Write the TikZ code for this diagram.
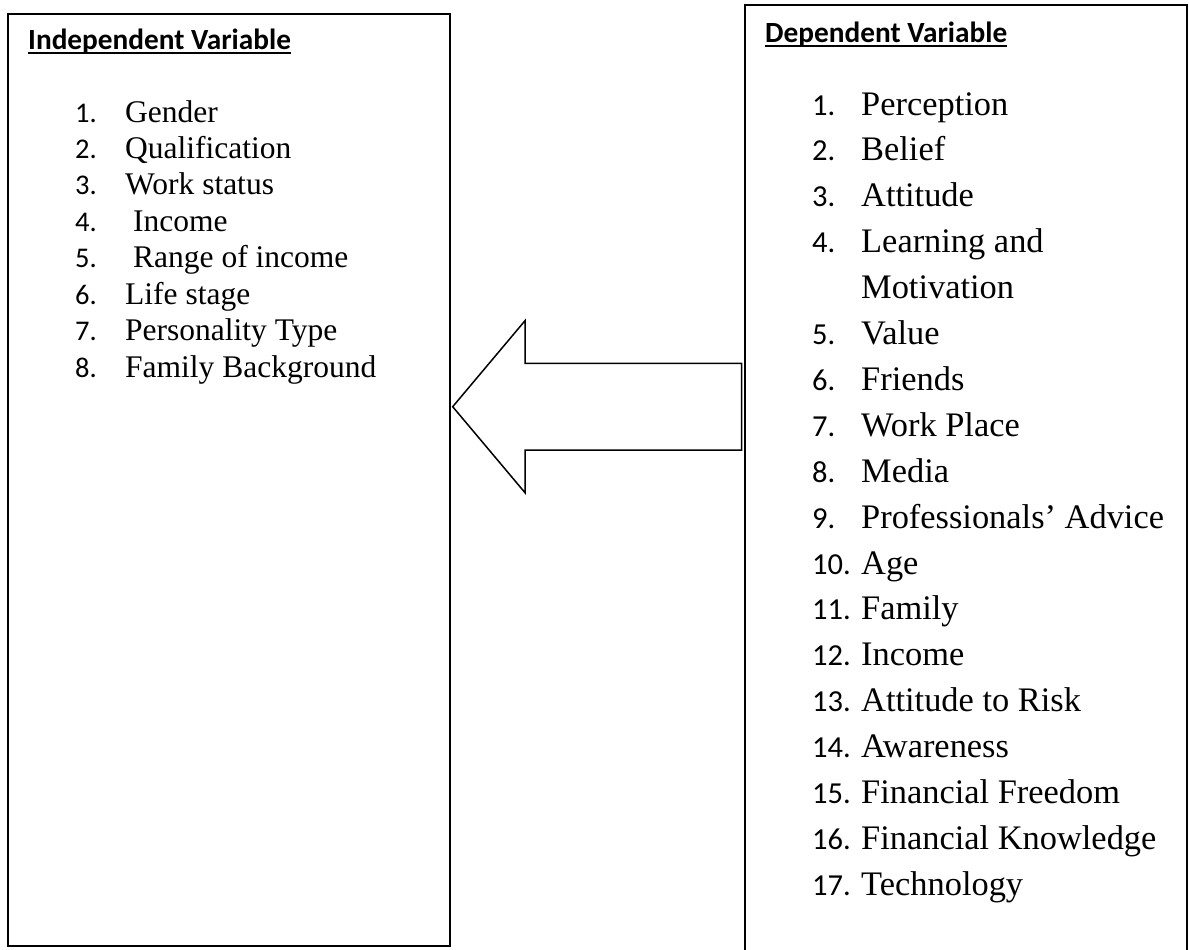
\documentclass[tikz,border=0pt]{standalone}
\usepackage{fontspec}
\setmainfont{Liberation Serif}
\newfontfamily\numfont{Carlito}
\begin{document}
\begin{tikzpicture}[x=1pt,y=-1pt,
  lboxstyle/.style={draw=black,line width=2pt,inner sep=0pt,outer sep=0pt,anchor=north west},
  rboxstyle/.style={draw=black,line width=1.6pt,inner sep=0pt,outer sep=0pt,anchor=north west},
  ttl/.style={anchor=base west,inner sep=0pt,font=\numfont\bfseries\fontsize{29.3}{32}\selectfont},
  uline/.style={line width=2.2pt},
  lnum/.style={anchor=base west,inner sep=0pt,font=\numfont\fontsize{28.5}{32}\selectfont},
  litem/.style={anchor=base west,inner sep=0pt,font=\fontsize{31.5}{34}\selectfont},
  rnum/.style={anchor=base west,inner sep=0pt,font=\numfont\fontsize{30.5}{34}\selectfont},
  ritem/.style={anchor=base west,inner sep=0pt,font=\fontsize{34.4}{38}\selectfont},
  blockarrow/.style={draw=black,line width=1.5pt,line join=miter,fill=white}]
\clip (0,0) rectangle (1189,950);
\fill[white] (0,0) rectangle (1189,950);
% boxes
\node[lboxstyle,minimum width=441.5pt,minimum height=931.5pt] (lbox) at (8.3,14) {};
\node[rboxstyle,minimum width=442pt,minimum height=980pt] (rbox) at (744.7,5.3) {};
% arrow
\draw[blockarrow] (452.7,406.7) -- (525,320.7) -- (525,363.3) -- (741.7,363.3)
  -- (741.7,450) -- (525,450) -- (525,492.7) -- cycle;
% titles
\node[ttl] (ltitle) at (28,49.5) {Independent Variable};
\draw[uline] ([yshift=-3.6pt]ltitle.base west) -- ([yshift=-3.6pt]ltitle.base east);
\node[ttl] (rtitle) at (765,42.5) {Dependent Variable};
\draw[uline] ([yshift=-3.6pt]rtitle.base west) -- ([yshift=-3.6pt]rtitle.base east);
% left list
\foreach \t/\dx [count=\i] in {Gender/0,Qualification/0,Work status/0,Income/8,Range of income/8,Life stage/0,Personality Type/0,Family Background/0}{
  \node[lnum] (ln\i) at (75,{122+(\i-1)*36.43}) {\i.};
  \node[litem] (l\i) at ({125+\dx},{122+(\i-1)*36.43}) {\t};
}
% right list
\foreach \t [count=\i] in {Perception,Belief,Attitude,Learning and}{
  \node[rnum] (rn\i) at (812,{115+(\i-1)*45.9}) {\i.};
  \node[ritem] (r\i) at (861,{115+(\i-1)*45.9}) {\t};
}
\node[ritem] (r4b) at (861,{115+4*45.9}) {Motivation};
\foreach \t [count=\j from 5] in {Value,Friends,Work Place,Media,Professionals’ Advice,Age,Family,Income,Attitude to Risk,Awareness,Financial Freedom,Financial Knowledge,Technology}{
  \node[rnum] (rn\j) at (812,{115+\j*45.9}) {\j.};
  \node[ritem] (r\j) at (861,{115+\j*45.9}) {\t};
}
\end{tikzpicture}
\end{document}
